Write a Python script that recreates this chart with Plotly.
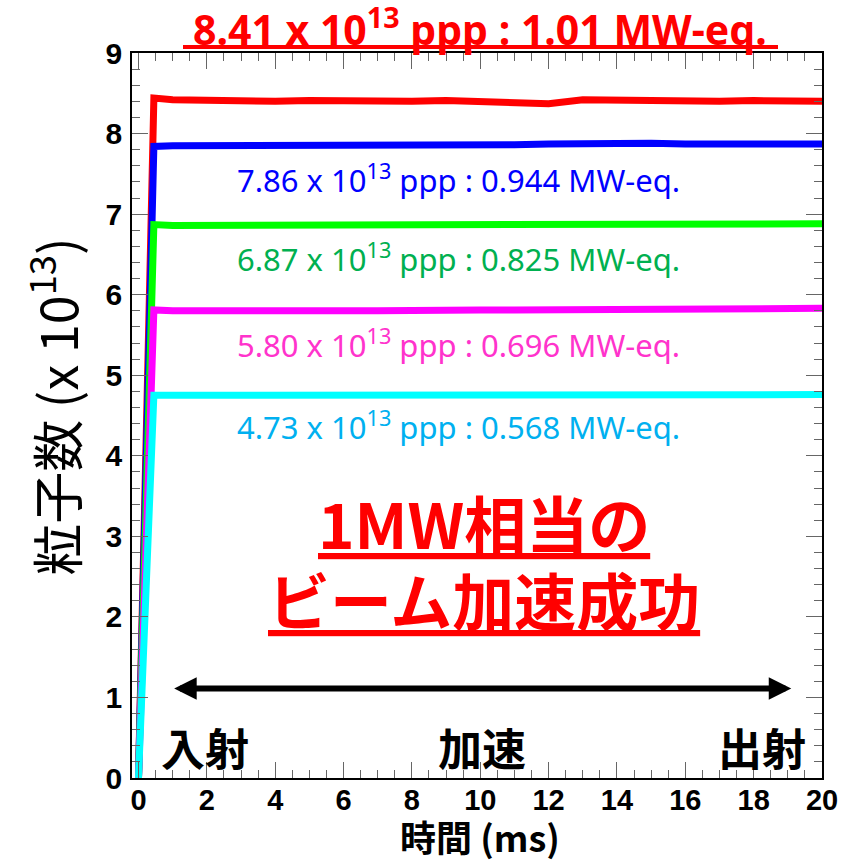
import plotly.graph_objects as go

# Beam intensity in the ring during one 20 ms acceleration cycle
time_ms = [0.0, 0.45, 1, 2, 3, 4, 5, 6, 7, 8, 9, 10,
           11, 12, 13, 14, 15, 16, 17, 18, 19, 20]

red_ppp = [0.0, 8.44, 8.42, 8.41, 8.42, 8.40, 8.41, 8.40, 8.39, 8.40, 8.41, 8.40,
           8.40, 8.37, 8.42, 8.41, 8.40, 8.41, 8.40, 8.41, 8.40, 8.40]
blue_ppp = [0.0, 7.84, 7.85, 7.85, 7.84, 7.85, 7.85, 7.86, 7.85, 7.86, 7.86, 7.86,
            7.86, 7.87, 7.88, 7.87, 7.88, 7.87, 7.87, 7.87, 7.87, 7.87]
green_ppp = [0.0, 6.87, 6.86, 6.86, 6.87, 6.86, 6.87, 6.87, 6.86, 6.87, 6.87, 6.87,
             6.87, 6.87, 6.88, 6.87, 6.88, 6.87, 6.88, 6.88, 6.88, 6.88]
magenta_ppp = [0.0, 5.81, 5.80, 5.81, 5.80, 5.80, 5.81, 5.80, 5.80, 5.81, 5.81, 5.81,
               5.81, 5.81, 5.82, 5.82, 5.82, 5.82, 5.82, 5.83, 5.83, 5.83]
cyan_ppp = [0.0, 4.75, 4.75, 4.75, 4.74, 4.75, 4.75, 4.75, 4.74, 4.75, 4.75, 4.75,
            4.75, 4.75, 4.75, 4.75, 4.75, 4.76, 4.75, 4.76, 4.76, 4.76]

series = [red_ppp, blue_ppp, green_ppp, magenta_ppp, cyan_ppp]
line_colors = ["#FF0000", "#0000FF", "#00FF00", "#FF00FF", "#00FFFF"]

label_texts = [
    "7.86 x 10<sup>13</sup> ppp : 0.944 MW-eq.",
    "6.87 x 10<sup>13</sup> ppp : 0.825 MW-eq.",
    "5.80 x 10<sup>13</sup> ppp : 0.696 MW-eq.",
    "4.73 x 10<sup>13</sup> ppp : 0.568 MW-eq.",
]
label_colors = ["#0000FF", "#00B050", "#FF33CC", "#00B0F0"]
label_y = [7.44, 6.46, 5.40, 4.38]
label_x = 9.37

title_text = "8.41 x 10<sup>13</sup> ppp : 1.01 MW-eq."
phase_texts = ["入射", "加速", "出射"]
phase_x = [1.95, 10.05, 18.25]

fig = go.Figure()
for vals, col in zip(series, line_colors):
    fig.add_trace(go.Scatter(x=time_ms, y=vals, mode="lines",
                             line=dict(color=col, width=7),
                             showlegend=False, hoverinfo="skip"))

cjk = "Noto Sans CJK JP"
mid = dict(xanchor="center", yanchor="middle", showarrow=False)

annotations = []
for txt, col, yv in zip(label_texts, label_colors, label_y):
    annotations.append(dict(x=label_x, y=yv, xref="x", yref="y", text=txt,
                            font=dict(family="Noto Sans", size=31, color=col),
                            **mid))

annotations.append(dict(x=0.504, y=1.0 + 26.5 / 725, xref="paper", yref="paper",
                        text="<b>" + title_text + "</b>",
                        font=dict(family="Noto Sans", size=41, color="#FF0000"),
                        **mid))

annotations.append(dict(x=10.1, y=3.18, xref="x", yref="y",
                        text="<b>1MW相当の</b>",
                        font=dict(family=cjk, size=62, color="#FF0000",
                                  lineposition="under"), **mid))
annotations.append(dict(x=10.1, y=2.22, xref="x", yref="y",
                        text="<b>ビーム加速成功</b>",
                        font=dict(family=cjk, size=62, color="#FF0000",
                                  lineposition="under"), **mid))

# double-headed arrow spanning the acceleration period
annotations.append(dict(x=19.1, y=1.11, ax=1.0, ay=1.11, xref="x", yref="y",
                        axref="x", ayref="y", text="", showarrow=True,
                        arrowhead=2, startarrowhead=2, arrowside="end+start",
                        arrowwidth=6, arrowsize=0.75, startarrowsize=0.75,
                        arrowcolor="#000000", standoff=0, startstandoff=0))

for txt, xv in zip(phase_texts, phase_x):
    annotations.append(dict(x=xv, y=0.39, xref="x", yref="y",
                            text="<b>" + txt + "</b>",
                            font=dict(family=cjk, size=44, color="#000000"),
                            **mid))

# axis titles
annotations.append(dict(x=0.505, y=-(836 - 777.7) / 725, xref="paper",
                        yref="paper", text="<b>時間 (ms)</b>",
                        font=dict(family=cjk, size=36, color="#000000"), **mid))
annotations.append(dict(x=-0.113, y=0.512, xref="paper", yref="paper",
                        text="粒子数 (x 10<sup>13</sup>)", textangle=-90,
                        font=dict(family=cjk, size=52, color="#000000"), **mid))

# underline below the headline
shapes = [dict(type="line", xref="paper", yref="paper",
               x0=(183 - 132) / 690, x1=(778 - 132) / 690,
               y0=1.0 + 6 / 725, y1=1.0 + 6 / 725,
               line=dict(color="#FF0000", width=4))]

fig.update_layout(
    width=864, height=864,
    margin=dict(l=132, r=42, t=53, b=86),
    paper_bgcolor="white", plot_bgcolor="white",
    annotations=annotations, shapes=shapes,
)

fig.update_xaxes(
    range=[-0.19, 20], tick0=0, dtick=2,
    showgrid=False, zeroline=False,
    showline=True, linecolor="#000000", linewidth=1.5, mirror="allticks",
    ticks="inside", ticklen=16, tickwidth=1, tickcolor="#666666",
    minor=dict(dtick=0.5, ticks="inside", ticklen=8, tickwidth=1,
               tickcolor="#666666", showgrid=False),
    tickfont=dict(family="Liberation Sans", size=29,
                  color="#000000", weight="bold"),
    ticklabelstandoff=-5,
)
fig.update_yaxes(
    range=[0, 9], tick0=0, dtick=1,
    showgrid=False, zeroline=False,
    showline=True, linecolor="#000000", linewidth=1.5, mirror="allticks",
    ticks="inside", ticklen=16, tickwidth=1, tickcolor="#666666",
    minor=dict(dtick=0.2, ticks="inside", ticklen=8, tickwidth=1,
               tickcolor="#666666", showgrid=False),
    tickfont=dict(family="Liberation Sans", size=30, color="#000000",
                  weight="bold"),
    ticklabelstandoff=2,
)

fig.write_html("out.html")
